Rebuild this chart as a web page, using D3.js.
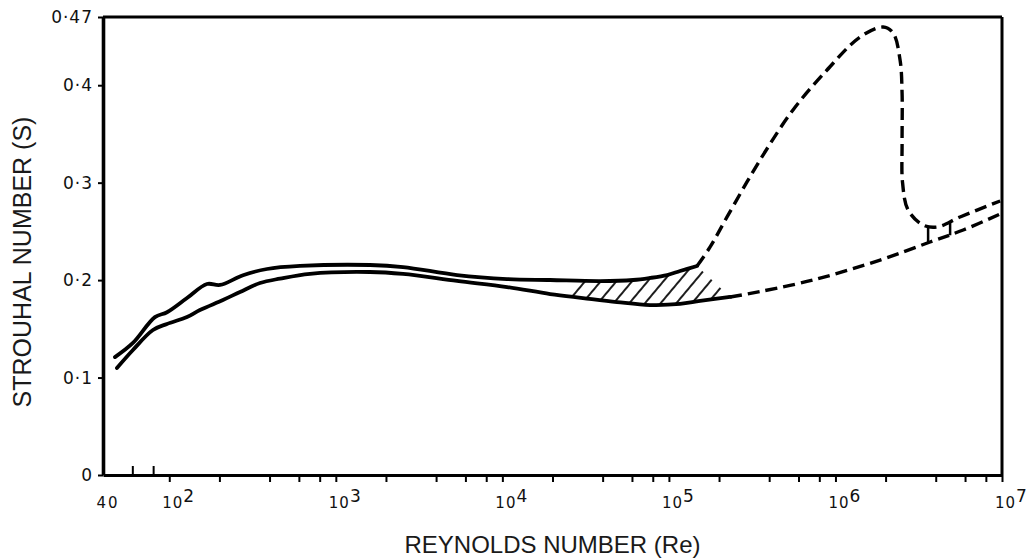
<!DOCTYPE html>
<html>
<head>
<meta charset="utf-8">
<script src="https://cdn.jsdelivr.net/npm/d3@7"></script>
<style>
  body { margin: 0; background: #fff; }
  text { font-family: "Liberation Sans", Arial, sans-serif; fill: #111; }
  .tick-label { font-family: "DejaVu Sans", sans-serif; }
</style>
</head>
<body>
<div id="plot"></div>
<script>
// Chart size
const width = 1034;
const height = 560;

// Data: [Reynolds number, Strouhal number]
const upperSolid = [[47.2,0.121],[60.5,0.1355],[82,0.162],[96.9,0.167],[127.8,0.1816],[168.4,0.196],[201.6,0.195],[277.3,0.205],[386.2,0.2114],[609.5,0.2145],[1604,0.2155],[2533,0.2134],[5346,0.2052],[10670,0.2011],[19360,0.2001],[38640,0.199],[60990,0.2001],[77120,0.2022],[97550,0.2052],[116700,0.2093],[147600,0.2145]];
const upperDashed = [[147600,0.2145],[176800,0.234],[223400,0.2648],[352400,0.3232],[556000,0.3746],[889900,0.4156],[1.406e6,0.4495],[1.932e6,0.4597],[2.218e6,0.4536],[2.443e6,0.4259],[2.512e6,0.392],[2.512e6,0.3407],[2.53e6,0.2996],[2.73e6,0.2719],[3.36e6,0.2565],[4.08e6,0.2545],[5.6e6,0.2648],[9.75e6,0.2812]];
const lowerSolid = [[48.5,0.1098],[60.5,0.1283],[79.8,0.1488],[96.9,0.155],[127.8,0.1621],[152.8,0.1693],[210.1,0.1796],[265.9,0.1878],[350.6,0.197],[462.3,0.2015],[700,0.2065],[1604,0.2083],[2533,0.2063],[5346,0.1991],[10670,0.1929],[19360,0.1857],[30480,0.1816],[48840,0.1775],[77120,0.1744],[116700,0.1755],[153900,0.1786],[233200,0.1827]];
const lowerDashed = [[233200,0.1827],[294500,0.1857],[733100,0.2001],[1.854e6,0.2206],[3.7e6,0.2391],[5.85e6,0.2514],[9.75e6,0.2678]];
// short links between the two dashed lines near the right edge: [Re, S top, S bottom]
const links = [[3.6e6,0.256,0.238],[4.88e6,0.26,0.246]];
// hatched band range (Re)
const hatchRange = [25500, 240000];

// Ticks
const yTicks = [0, 0.1, 0.2, 0.3, 0.4, 0.47];
const xDecades = [2, 3, 4, 5, 6, 7];
const xMinor = [200,400,600,800, 2e3,4e3,6e3,8e3, 2e4,4e4,6e4,8e4, 2e5,4e5,6e5,8e5, 2e6,4e6,6e6,8e6];
const xInnerTicks = [60, 80];

const svg = d3.select("#plot")
  .append("svg")
  .attr("width", width)
  .attr("height", height);

// Scales
const x = d3.scaleLog().domain([40, 1e7]).range([103, 1002]);
const y = d3.scaleLinear().domain([0, 0.47]).range([475, 17]);

const line = d3.line()
  .x(d => x(d[0]))
  .y(d => y(d[1]))
  .curve(d3.curveCatmullRom.alpha(0.5));

// Hatch pattern
const defs = svg.append("defs");
const pat = defs.append("pattern")
  .attr("id", "hatch")
  .attr("patternUnits", "userSpaceOnUse")
  .attr("width", 12)
  .attr("height", 12)
  .attr("patternTransform", "rotate(40)");
pat.append("line")
  .attr("x1", 5).attr("y1", 0)
  .attr("x2", 5).attr("y2", 12)
  .attr("stroke", "#111")
  .attr("stroke-width", 1.9);

defs.append("clipPath")
  .attr("id", "hatch-clip")
  .append("rect")
  .attr("x", x(hatchRange[0]))
  .attr("y", y(0.47))
  .attr("width", x(hatchRange[1]) - x(hatchRange[0]))
  .attr("height", y(0) - y(0.47));

// Band between the curves, filled with hatching
svg.append("path")
  .attr("d", d3.line().x(d => x(d[0])).y(d => y(d[1]))(upperSolid.concat(lowerSolid.slice().reverse())) + "Z")
  .attr("fill", "url(#hatch)")
  .attr("clip-path", "url(#hatch-clip)");

// Curves
[upperSolid, lowerSolid].forEach(d => {
  svg.append("path")
    .attr("d", line(d))
    .attr("fill", "none")
    .attr("stroke", "#000")
    .attr("stroke-width", 3.8)
    .attr("stroke-linecap", "round");
});

[upperDashed, lowerDashed].forEach(d => {
  svg.append("path")
    .attr("d", line(d))
    .attr("fill", "none")
    .attr("stroke", "#000")
    .attr("stroke-width", 3.4)
    .attr("stroke-dasharray", "12,6");
});

svg.selectAll("line.link")
  .data(links)
  .join("line")
  .attr("class", "link")
  .attr("x1", d => x(d[0])).attr("x2", d => x(d[0]))
  .attr("y1", d => y(d[1])).attr("y2", d => y(d[2]))
  .attr("stroke", "#000")
  .attr("stroke-width", 2.5);

// X axis
const xAxis = svg.append("g")
  .attr("transform", `translate(0,${y(0)})`)
  .call(d3.axisBottom(x)
    .tickValues(xDecades.map(e => Math.pow(10, e)).concat(xMinor))
    .tickSize(7)
    .tickSizeOuter(0)
    .tickFormat(""));
xAxis.select(".domain").attr("stroke-width", 3.2);
xAxis.selectAll(".tick line").attr("stroke-width", 2);

const xAxisIn = svg.append("g")
  .attr("transform", `translate(0,${y(0)})`)
  .call(d3.axisBottom(x).tickValues(xInnerTicks).tickSize(-9).tickFormat(""));
xAxisIn.select(".domain").remove();
xAxisIn.selectAll(".tick line").attr("stroke-width", 2);

// X tick labels
svg.append("text")
  .attr("class", "tick-label")
  .attr("x", x(40) + 5)
  .attr("y", 508)
  .attr("text-anchor", "middle")
  .style("font-size", "15px")
  .style("letter-spacing", "2px")
  .text("40");

const dec = svg.selectAll("text.dec")
  .data(xDecades)
  .join("text")
  .attr("class", "dec tick-label")
  .attr("x", d => x(Math.pow(10, d)) - 7)
  .attr("y", 508)
  .style("font-size", "15px")
  .style("letter-spacing", "1px");
dec.append("tspan").text("10");
dec.append("tspan")
  .attr("dy", -6)
  .style("font-size", "17px")
  .text(d => d);

// Y axis
const yAxis = svg.append("g")
  .attr("transform", `translate(${x(40)},0)`)
  .call(d3.axisLeft(y)
    .tickValues(yTicks)
    .tickSize(5)
    .tickSizeOuter(0)
    .tickPadding(5)
    .tickFormat(d => d === 0 ? "0" : String(d).replace("0.", "0·")));
yAxis.select(".domain").attr("stroke-width", 3.6);
yAxis.selectAll(".tick line").attr("stroke-width", 2);
yAxis.selectAll(".tick text")
  .attr("class", "tick-label")
  .attr("font-family", null)
  .style("font-size", "17px")
  .style("letter-spacing", "1px");

// Top and right frame
svg.append("line")
  .attr("x1", x(40)).attr("x2", x(1e7))
  .attr("y1", y(0.47)).attr("y2", y(0.47))
  .attr("stroke", "#000").attr("stroke-width", 3);
svg.append("line")
  .attr("x1", x(1e7)).attr("x2", x(1e7))
  .attr("y1", y(0.47)).attr("y2", y(0))
  .attr("stroke", "#000").attr("stroke-width", 3);

// Axis titles
svg.append("text")
  .attr("x", (x(40) + x(1e7)) / 2)
  .attr("y", 553)
  .attr("text-anchor", "middle")
  .style("font-size", "24px")
  .style("fill", "#1a1a1a")
  .text("REYNOLDS NUMBER (Re)");

svg.append("text")
  .attr("transform", "translate(31,262) rotate(-90)")
  .attr("text-anchor", "middle")
  .style("font-size", "25px")
  .style("fill", "#1a1a1a")
  .text("STROUHAL NUMBER (S)");
</script>
</body>
</html>
